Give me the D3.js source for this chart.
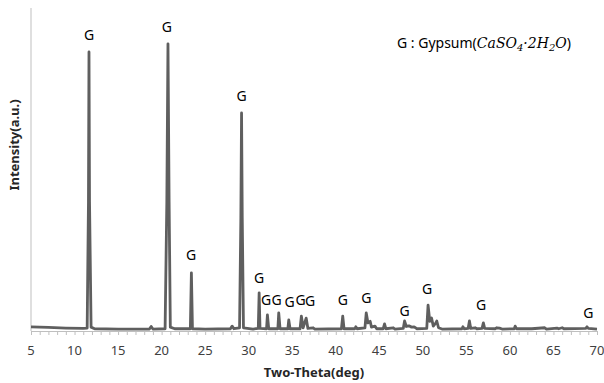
<!DOCTYPE html>
<html>
<head>
<meta charset="utf-8">
<script src="https://cdn.jsdelivr.net/npm/d3@7"></script>
<style>
  body { margin: 0; background: #fff; }
  text { font-family: "Noto Sans", "Open Sans", sans-serif; }
</style>
</head>
<body>
<div id="chart"></div>
<script>
// XRD pattern (intensity in arbitrary units)
const twoTheta = [5, 7, 9, 11, 11.45, 11.6, 11.66, 11.72, 11.9, 12.3, 15, 18.6, 18.8, 19.0, 20.4, 20.6, 20.73, 20.86, 21.0, 21.5,
    23.3, 23.42, 23.54, 25, 27.9, 28.1, 28.3, 28.95, 29.1, 29.18, 29.26, 29.4, 30.5, 31.1, 31.2, 31.3, 32.05, 32.15, 32.3,
    33.35, 33.45, 33.6, 34.5, 34.6, 34.75, 35.9, 36.05, 36.25, 36.6, 36.8, 37.4, 37.6, 40.65, 40.8, 40.95, 42.2, 42.3, 42.45,
    43.35, 43.5, 43.7, 43.95, 44.1, 44.5, 44.7, 45.45, 45.6, 45.75, 46.6, 46.8, 47.75, 47.9, 48.1, 48.4, 48.7, 49.0, 49.3,
    50.45, 50.6, 50.8, 51.0, 51.2, 51.5, 51.6, 51.8, 52.2, 54.5, 54.6, 54.75, 55.2, 55.35, 55.5, 56.0, 56.2, 56.8, 56.95, 57.1,
    58.3, 58.5, 58.8, 59.1, 60.5, 60.6, 60.75, 62.5, 64.0, 64.2, 65.4, 65.6, 66.0, 66.2, 68.7, 68.85, 69.0, 70];
const intensity = [1.3, 1.1, 0.9, 0.8, 0.9, 40, 86.4, 40, 1.2, 0.7, 0.6, 0.6, 1.4, 0.6, 0.7, 40, 88.9, 40, 1.2, 0.7,
    0.7, 18, 0.7, 0.6, 0.7, 1.5, 0.7, 1.0, 35, 67.5, 35, 1.0, 0.6, 0.8, 11.8, 0.8, 0.7, 5.0, 0.7,
    0.7, 5.6, 0.7, 0.7, 3.4, 0.7, 0.7, 4.6, 1.0, 4.0, 0.8, 1.0, 0.6, 0.7, 4.6, 0.7, 0.7, 1.3, 0.7,
    1.0, 5.6, 2.5, 3.0, 1.2, 1.5, 0.7, 0.7, 2.2, 0.7, 1.0, 0.6, 0.8, 3.1, 1.4, 1.6, 1.2, 1.3, 0.7,
    0.8, 8.0, 3.0, 4.0, 1.5, 2.5, 3.1, 1.0, 0.6, 0.7, 1.3, 0.7, 0.8, 3.1, 0.8, 1.0, 0.7, 0.8, 2.5, 0.8,
    0.7, 1.0, 0.9, 0.6, 0.7, 1.5, 0.7, 0.7, 1.0, 0.6, 0.9, 0.7, 1.0, 0.7, 0.8, 1.3, 0.8, 0.6];

// "G" peak markers: angle and height where the letter sits
const labelAngles = [11.66, 20.6, 23.4, 29.2, 31.2, 32.0, 33.2, 34.7, 35.95, 37.05, 40.8, 43.5, 47.9, 50.5, 56.7, 69.0];
const labelLevels = [91.6, 94.1, 23.5, 72.8, 16.4, 9.6, 9.6, 9.0, 9.6, 9.3, 9.6, 10.2, 6.2, 13, 8.0, 5.6];

const xTicks = [5, 10, 15, 20, 25, 30, 35, 40, 45, 50, 55, 60, 65, 70];

const width = 604, height = 383;
const margin = {left: 31, right: 7, top: 8, bottom: 52};

let svg = d3.select("#chart").append("svg")
    .attr("width", width)
    .attr("height", height);

let x = d3.scaleLinear().domain([5, 70]).range([margin.left, width - margin.right]);
let y = d3.scaleLinear().domain([0, 100]).range([height - margin.bottom, margin.top]);

// axes
let xAxis = svg.append("g")
    .attr("transform", "translate(0," + (height - margin.bottom) + ")")
    .call(d3.axisBottom(x).tickValues(d3.range(5, 71, 1)).tickSize(4).tickFormat(""));
xAxis.select(".domain").attr("stroke", "#bfbfbf");
xAxis.selectAll(".tick line").attr("stroke", "#bfbfbf");

svg.append("g").selectAll("text").data(xTicks).enter().append("text")
    .attr("x", d => x(d))
    .attr("y", height - margin.bottom + 24)
    .attr("text-anchor", "middle")
    .attr("font-size", 13)
    .attr("fill", "#404040")
    .text(d => d);

svg.append("line")
    .attr("x1", x(5)).attr("x2", x(5))
    .attr("y1", y(100)).attr("y2", y(0))
    .attr("stroke", "#bfbfbf");

// spectrum
let pts = twoTheta.map((t, i) => [t, intensity[i]]);
let line = d3.line().x(d => x(d[0])).y(d => y(d[1]));
svg.append("path")
    .datum(pts)
    .attr("d", line)
    .attr("fill", "none")
    .attr("stroke", "#5f5f5f")
    .attr("stroke-width", 2.8)
    .attr("stroke-linejoin", "round");

// peak labels
svg.append("g").selectAll("text").data(labelAngles).enter().append("text")
    .attr("x", d => x(d))
    .attr("y", (d, i) => y(labelLevels[i]) + 5)
    .attr("text-anchor", "middle")
    .attr("font-size", 14)
    .attr("fill", "#000")
    .text("G");

// legend
let legend = svg.append("text")
    .attr("x", 397)
    .attr("y", 48)
    .attr("font-size", 14)
    .attr("fill", "#000");
legend.append("tspan").text("G : Gypsum(");
let chem = legend.append("tspan")
    .attr("font-family", "'DejaVu Serif', 'Liberation Serif', serif")
    .attr("font-style", "italic")
    .attr("font-size", 14);
chem.append("tspan").text("CaSO");
chem.append("tspan").attr("font-size", 10).attr("dy", 3).text("4");
chem.append("tspan").attr("dy", -3).text("·2H");
chem.append("tspan").attr("font-size", 10).attr("dy", 3).text("2");
chem.append("tspan").attr("dy", -3).text("O");
legend.append("tspan").text(")");

// axis titles
svg.append("text")
    .attr("x", 314)
    .attr("y", 377)
    .attr("text-anchor", "middle")
    .attr("font-size", 13)
    .attr("font-weight", "bold")
    .attr("fill", "#262626")
    .text("Two-Theta(deg)");

svg.append("text")
    .attr("transform", "translate(19,145) rotate(-90)")
    .attr("text-anchor", "middle")
    .attr("font-size", 13)
    .attr("font-weight", "bold")
    .attr("fill", "#262626")
    .text("Intensity(a.u.)");
</script>
</body>
</html>
